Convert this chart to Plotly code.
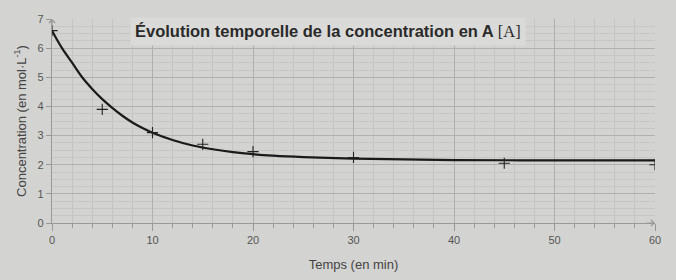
import plotly.graph_objects as go

# measured points
t_pts = [0, 5, 10, 15, 20, 30, 45, 60]
c_pts = [6.6, 3.9, 3.1, 2.7, 2.45, 2.25, 2.05, 2.0]

# fitted curve
t_curve = [0, 1, 2, 3, 4, 5, 6, 7, 8, 9, 10, 12, 14, 16, 18, 20, 22, 25, 30, 35, 40, 50, 60]
c_curve = [6.6, 6.0, 5.5, 5.0, 4.6, 4.25, 3.95, 3.68, 3.45, 3.26, 3.1, 2.85, 2.66, 2.53, 2.43, 2.36, 2.31, 2.26, 2.21, 2.18, 2.16, 2.15, 2.15]

x_ticks = [0, 10, 20, 30, 40, 50, 60]
y_ticks = [0, 1, 2, 3, 4, 5, 6, 7]

title = "Évolution temporelle de la concentration en A <span style='font-family:Liberation Serif;font-weight:normal'>[A]</span>"
x_title = "Temps (en min)"
y_title = "Concentration (en mol·L<sup>-1</sup>)"

bg = "#d3d3d1"
fig = go.Figure()
fig.add_trace(go.Scatter(x=t_curve, y=c_curve, mode="lines", line=dict(color="#1a1a1a", width=2.2, shape="spline"), hoverinfo="skip"))
fig.add_trace(go.Scatter(x=t_pts, y=c_pts, mode="markers",
                         marker=dict(symbol="cross-thin", size=8, line=dict(color="#222", width=1.1))))

axis_font = dict(family="Liberation Sans, Arial", size=11, color="#555")
fig.update_layout(
    width=676, height=280,
    margin=dict(l=52, r=21, t=19, b=57),
    paper_bgcolor=bg, plot_bgcolor=bg,
    showlegend=False,
    xaxis=dict(range=[0, 60], tickvals=x_ticks, tickfont=axis_font,
               showgrid=True, gridcolor="#b0b0ae", gridwidth=1,
               minor=dict(dtick=2, showgrid=True, gridcolor="#c4c4c2", ticks="outside", ticklen=4, tickcolor="#999"),
               ticks="outside", ticklen=7, tickcolor="#999",
               showline=True, linecolor="#999", linewidth=1.2, zeroline=False,
               title=dict(text=x_title, font=dict(family="Liberation Sans, Arial", size=13, color="#444"), standoff=14)),
    yaxis=dict(range=[0, 7], tickvals=y_ticks, tickfont=axis_font,
               showgrid=True, gridcolor="#b0b0ae", gridwidth=1,
               minor=dict(dtick=0.25, showgrid=True, gridcolor="#c6c6c4"),
               ticks="outside", ticklen=5, tickcolor="#999",
               showline=True, linecolor="#999", linewidth=1.2, zeroline=False,
               title=dict(text=y_title, font=dict(family="Liberation Sans, Arial", size=13, color="#444"), standoff=8)),
)
fig.add_annotation(x=0.5, y=1.0, xref="paper", yref="paper", xanchor="center", yanchor="top", yshift=2, xshift=-26,
                   text="<b>" + title + "</b>", showarrow=False, bgcolor="#dadad8",
                   font=dict(family="Liberation Sans, Arial", size=16.5, color="#2a2a2a"), borderpad=4)
# axis arrows
fig.add_annotation(x=0, y=7, ax=0, ay=6.7, xref="x", yref="y", axref="x", ayref="y",
                   showarrow=True, arrowhead=4, arrowsize=1.2, arrowwidth=1, arrowcolor="#999", text="")
fig.add_annotation(x=60, y=0, ax=59, ay=0, xref="x", yref="y", axref="x", ayref="y",
                   showarrow=True, arrowhead=4, arrowsize=1.2, arrowwidth=1, arrowcolor="#999", text="")
fig.write_html("out.html")
